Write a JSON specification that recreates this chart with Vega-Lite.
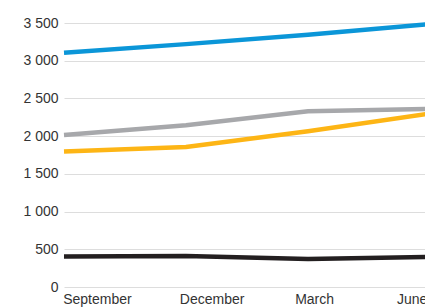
{
  "$schema": "https://vega.github.io/schema/vega-lite/v6.json",
  "autosize": "none",
  "padding": {"left": 64, "top": 23, "right": 0, "bottom": 21},
  "width": 366,
  "height": 264,
  "background": "white",
  "config": {"view": {"stroke": null}, "font": "Liberation Sans"},
  "data": {"values": [
    {"q": 0, "series": "A", "value": 3105},
    {"q": 1, "series": "A", "value": 3220},
    {"q": 2, "series": "A", "value": 3345},
    {"q": 3, "series": "A", "value": 3485},
    {"q": 0, "series": "B", "value": 2015},
    {"q": 1, "series": "B", "value": 2145},
    {"q": 2, "series": "B", "value": 2330},
    {"q": 3, "series": "B", "value": 2360},
    {"q": 0, "series": "C", "value": 1795},
    {"q": 1, "series": "C", "value": 1855},
    {"q": 2, "series": "C", "value": 2065},
    {"q": 3, "series": "C", "value": 2300},
    {"q": 0, "series": "D", "value": 405},
    {"q": 1, "series": "D", "value": 410},
    {"q": 2, "series": "D", "value": 372},
    {"q": 3, "series": "D", "value": 400}
  ]},
  "mark": {"type": "line", "strokeWidth": 4.5, "clip": false},
  "encoding": {
    "x": {
      "field": "q", "type": "quantitative",
      "scale": {"domain": [0, 3], "nice": false, "zero": false},
      "axis": {
        "values": [0.27, 1.21, 2.05, 2.85],
        "labelExpr": "datum.value < 0.5 ? 'September' : datum.value < 1.5 ? 'December' : datum.value < 2.5 ? 'March' : 'June'",
        "grid": false, "domain": false, "ticks": false,
        "labelFontSize": 14, "labelColor": "#333333", "labelPadding": 5,
        "labelFlush": false, "labelOverlap": false, "title": null
      }
    },
    "y": {
      "field": "value", "type": "quantitative",
      "scale": {"domain": [0, 3500], "nice": false},
      "axis": {
        "values": [0, 500, 1000, 1500, 2000, 2500, 3000, 3500],
        "labelExpr": "replace(format(datum.value, ','), ',', ' ')",
        "grid": true, "gridColor": "#dddddd", "gridWidth": 1.2,
        "domain": false, "ticks": false,
        "labelFontSize": 14, "labelColor": "#333333", "labelPadding": 6,
        "title": null
      }
    },
    "color": {
      "field": "series", "type": "nominal", "legend": null,
      "scale": {"domain": ["A", "B", "C", "D"], "range": ["#0b96d8", "#a7a8ab", "#fdb515", "#231f20"]}
    }
  }
}
